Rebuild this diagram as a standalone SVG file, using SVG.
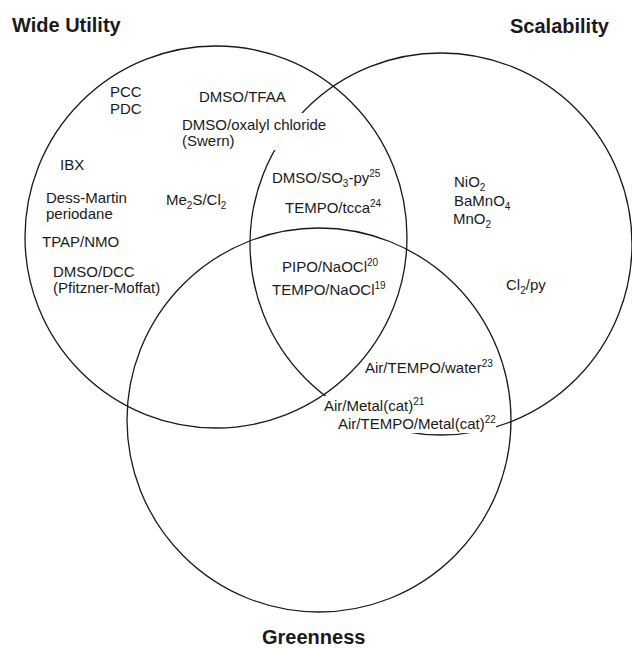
<svg xmlns="http://www.w3.org/2000/svg" width="632" height="648" viewBox="0 0 632 648">
<style>
.c{fill:none;stroke:#1a1a1a;stroke-width:1.3}
.t{font-family:"Liberation Sans",Arial,sans-serif;font-size:15px;fill:#1a1a1a}
.h{font-family:"Liberation Sans",Arial,sans-serif;font-size:20px;font-weight:bold;fill:#1a1a1a}
.s{font-size:10px}
.m{fill:#fff}
</style>
<rect width="632" height="648" fill="#fff"/>
<g id="circles">
<circle id="wide-utility" class="c" cx="216" cy="237" r="191"/>
<circle id="scalability" class="c" cx="441" cy="244" r="191"/>
<circle id="greenness" class="c" cx="319" cy="420" r="192"/>
</g>
<g id="masks">
<rect class="m" x="180" y="113" width="150" height="37"/>
<rect class="m" x="322" y="396" width="104" height="18"/>
<rect class="m" x="336" y="414" width="160" height="19"/>
</g>
<g id="titles">
<text class="h" x="12" y="32">Wide Utility</text>
<text class="h" x="510" y="33">Scalability</text>
<text class="h" x="262" y="644">Greenness</text>
</g>
<g id="wide-utility-labels">
<text class="t" x="110" y="97">PCC</text>
<text class="t" x="110" y="114">PDC</text>
<text class="t" x="199" y="102">DMSO/TFAA</text>
<text class="t" x="182" y="130">DMSO/oxalyl chloride</text>
<text class="t" x="182" y="146">(Swern)</text>
<text class="t" x="60" y="170">IBX</text>
<text class="t" x="46" y="203">Dess-Martin</text>
<text class="t" x="46" y="219">periodane</text>
<text class="t" x="166" y="205">Me<tspan class="s" dy="4">2</tspan><tspan dy="-4">S/Cl</tspan><tspan class="s" dy="4">2</tspan></text>
<text class="t" x="42" y="247">TPAP/NMO</text>
<text class="t" x="53" y="277">DMSO/DCC</text>
<text class="t" x="53" y="293">(Pfitzner-Moffat)</text>
</g>
<g id="wide-scalable-labels">
<text class="t" x="272" y="183">DMSO/SO<tspan class="s" dy="4">3</tspan><tspan dy="-4">-py</tspan><tspan class="s" dy="-6">25</tspan></text>
<text class="t" x="285" y="213">TEMPO/tcca<tspan class="s" dy="-6">24</tspan></text>
</g>
<g id="center-labels">
<text class="t" x="282" y="272">PIPO/NaOCl<tspan class="s" dy="-6">20</tspan></text>
<text class="t" x="272" y="295">TEMPO/NaOCl<tspan class="s" dy="-6">19</tspan></text>
</g>
<g id="scalability-labels">
<text class="t" x="454" y="187">NiO<tspan class="s" dy="4">2</tspan></text>
<text class="t" x="454" y="206">BaMnO<tspan class="s" dy="4">4</tspan></text>
<text class="t" x="453" y="224">MnO<tspan class="s" dy="4">2</tspan></text>
<text class="t" x="506" y="290">Cl<tspan class="s" dy="4">2</tspan><tspan dy="-4">/py</tspan></text>
</g>
<g id="greenness-labels">
<text class="t" x="365" y="373">Air/TEMPO/water<tspan class="s" dy="-6">23</tspan></text>
<text class="t" x="324" y="411">Air/Metal(cat)<tspan class="s" dy="-6">21</tspan></text>
<text class="t" x="338" y="429">Air/TEMPO/Metal(cat)<tspan class="s" dy="-6">22</tspan></text>
</g>
</svg>
